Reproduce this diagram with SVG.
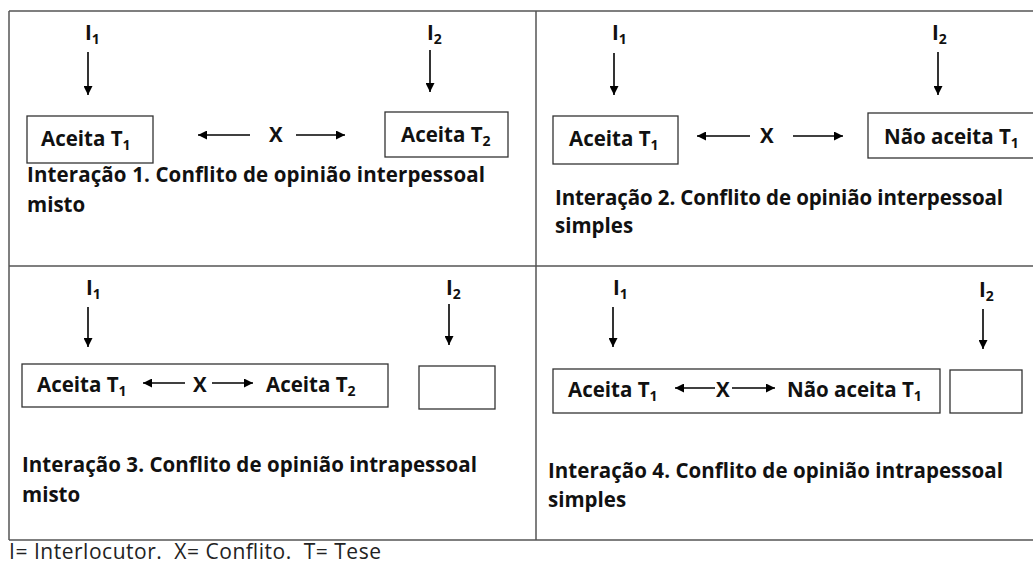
<svg xmlns="http://www.w3.org/2000/svg" width="1033" height="563" viewBox="0 0 1033 563">
  <style>
    .lbl { font-family: "Open Sans", Lato, "Liberation Sans", sans-serif; font-weight: bold; font-size: 20.5px; fill: #111; }
    .cap { font-family: "Open Sans", Lato, "Liberation Sans", sans-serif; font-weight: bold; font-size: 20.5px; fill: #111; }
    .note { font-family: "Open Sans", Lato, "Liberation Sans", sans-serif; font-size: 21px; fill: #222; }
    .sub { font-size: 14px; }
    .box { fill: #fff; stroke: #333; stroke-width: 1.3; }
    .frame { stroke: #555; stroke-width: 1.5; fill: none; }
    .arr { stroke: #000; stroke-width: 1.6; fill: none; marker-end: url(#head); }
  </style>
  <defs>
    <marker id="head" viewBox="0 0 10 10" refX="10" refY="5" markerUnits="userSpaceOnUse" markerWidth="9" markerHeight="9" orient="auto">
      <path d="M0,0 L10,5 L0,10 z" fill="#000"/>
    </marker>
  </defs>
  <rect width="1033" height="563" fill="#fff"/>

  <!-- table grid -->
  <g id="grid">
    <line class="frame" x1="9" y1="11" x2="1033" y2="11"/>
    <line class="frame" x1="9" y1="11" x2="9" y2="540"/>
    <line class="frame" x1="536" y1="11" x2="536" y2="540"/>
    <line class="frame" x1="9" y1="266" x2="1033" y2="266"/>
    <line class="frame" x1="9" y1="540" x2="1033" y2="540"/>
  </g>

  <!-- interaction 1 -->
  <g id="p1-i1"><text class="lbl" x="85" y="40">I<tspan class="sub" dy="4">1</tspan></text></g>
  <g id="p1-i2"><text class="lbl" x="427" y="40">I<tspan class="sub" dy="4">2</tspan></text></g>
  <g id="p1-t1">
    <rect class="box" x="27" y="116" width="126" height="47"/>
    <text class="lbl" x="41" y="146">Aceita T<tspan class="sub" dy="4">1</tspan></text>
  </g>
  <g id="p1-x"><text class="lbl" x="269" y="142">X</text></g>
  <g id="p1-t2">
    <rect class="box" x="385" y="112" width="123" height="45"/>
    <text class="lbl" x="401" y="142">Aceita T<tspan class="sub" dy="4">2</tspan></text>
  </g>
  <g id="p1-caption">
    <text class="cap" x="27" y="182" textLength="458">Interação 1. Conflito de opinião interpessoal</text>
    <text class="cap" x="27" y="212">misto</text>
  </g>

  <!-- interaction 2 -->
  <g id="p2-i1"><text class="lbl" x="612" y="40">I<tspan class="sub" dy="4">1</tspan></text></g>
  <g id="p2-i2"><text class="lbl" x="932" y="40">I<tspan class="sub" dy="4">2</tspan></text></g>
  <g id="p2-t1">
    <rect class="box" x="553" y="116" width="125" height="48"/>
    <text class="lbl" x="569" y="146">Aceita T<tspan class="sub" dy="4">1</tspan></text>
  </g>
  <g id="p2-x"><text class="lbl" x="760" y="143">X</text></g>
  <g id="p2-nt1">
    <rect class="box" x="868" y="113" width="180" height="45"/>
    <text class="lbl" x="884" y="144">Não aceita T<tspan class="sub" dy="4">1</tspan></text>
  </g>
  <g id="p2-caption">
    <text class="cap" x="555" y="205" textLength="448">Interação 2. Conflito de opinião interpessoal</text>
    <text class="cap" x="555" y="233">simples</text>
  </g>

  <!-- interaction 3 -->
  <g id="p3-i1"><text class="lbl" x="86" y="295">I<tspan class="sub" dy="4">1</tspan></text></g>
  <g id="p3-i2"><text class="lbl" x="446" y="295">I<tspan class="sub" dy="4">2</tspan></text></g>
  <g id="p3-pair">
    <rect class="box" x="22" y="364" width="366" height="43"/>
    <text class="lbl" x="37" y="392">Aceita T<tspan class="sub" dy="4">1</tspan></text>
    <text class="lbl" x="193" y="392">X</text>
    <text class="lbl" x="266" y="392">Aceita T<tspan class="sub" dy="4">2</tspan></text>
  </g>
  <g id="p3-empty"><rect class="box" x="419" y="366" width="76" height="43"/></g>
  <g id="p3-caption">
    <text class="cap" x="22" y="472" textLength="455">Interação 3. Conflito de opinião intrapessoal</text>
    <text class="cap" x="22" y="502">misto</text>
  </g>

  <!-- interaction 4 -->
  <g id="p4-i1"><text class="lbl" x="613" y="295">I<tspan class="sub" dy="4">1</tspan></text></g>
  <g id="p4-i2"><text class="lbl" x="979" y="297">I<tspan class="sub" dy="4">2</tspan></text></g>
  <g id="p4-pair">
    <rect class="box" x="553" y="369" width="387" height="44"/>
    <text class="lbl" x="568" y="397">Aceita T<tspan class="sub" dy="4">1</tspan></text>
    <text class="lbl" x="716" y="397">X</text>
    <text class="lbl" x="787" y="397">Não aceita T<tspan class="sub" dy="4">1</tspan></text>
  </g>
  <g id="p4-empty"><rect class="box" x="950" y="370" width="72" height="43"/></g>
  <g id="p4-caption">
    <text class="cap" x="548" y="478" textLength="455">Interação 4. Conflito de opinião intrapessoal</text>
    <text class="cap" x="548" y="507">simples</text>
  </g>

  <!-- connectors -->
  <g id="connectors">
    <line class="arr" x1="88" y1="52" x2="88" y2="95"/>
    <line class="arr" x1="430" y1="50" x2="430" y2="92"/>
    <line class="arr" x1="250" y1="135" x2="198" y2="135"/>
    <line class="arr" x1="296" y1="135" x2="345" y2="135"/>

    <line class="arr" x1="614" y1="53" x2="614" y2="95"/>
    <line class="arr" x1="938" y1="52" x2="938" y2="95"/>
    <line class="arr" x1="750" y1="136" x2="697" y2="136"/>
    <line class="arr" x1="793" y1="136" x2="843" y2="136"/>

    <line class="arr" x1="88" y1="307" x2="88" y2="347"/>
    <line class="arr" x1="449" y1="304" x2="449" y2="345"/>
    <line class="arr" x1="185" y1="383" x2="143" y2="383"/>
    <line class="arr" x1="212" y1="383" x2="253" y2="383"/>

    <line class="arr" x1="613" y1="307" x2="613" y2="347"/>
    <line class="arr" x1="983" y1="309" x2="983" y2="349"/>
    <line class="arr" x1="715" y1="388" x2="675" y2="388"/>
    <line class="arr" x1="732" y1="388" x2="775" y2="388"/>
  </g>

  <text class="note" x="9" y="559" xml:space="preserve" textLength="372">I= Interlocutor.  X= Conflito.  T= Tese</text>
</svg>
